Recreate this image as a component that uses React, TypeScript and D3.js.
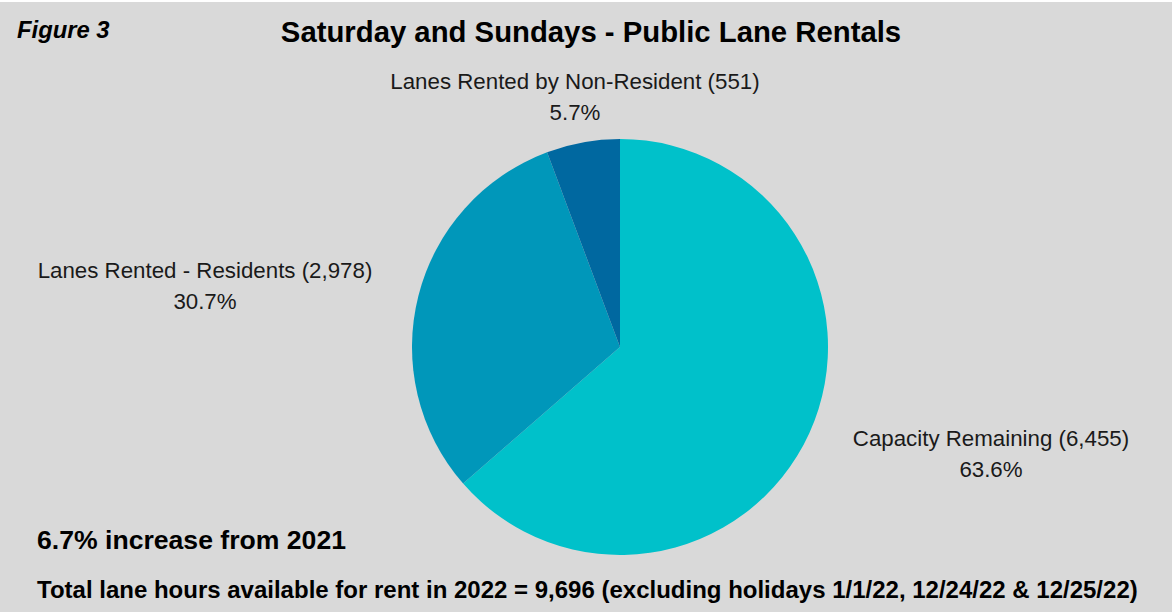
import React from "react";
import * as d3 from "d3";

const categories = ["Capacity Remaining", "Lanes Rented - Residents", "Lanes Rented by Non-Resident"];
const counts = ["6,455", "2,978", "551"];
const percents = [63.6, 30.7, 5.7];
const colors = ["#00C1CA", "#0097BA", "#0068A0"];
const labelPos = [
  { x: 991, y: 446 },
  { x: 205, y: 278 },
  { x: 575, y: 89 },
];
const labelText = [
  `${categories[0]} (${counts[0]})`,
  `${categories[1]} (${counts[1]})`,
  `${categories[2]} (${counts[2]})`,
];

const FONT = "Liberation Sans, Arial, sans-serif";

export default function App() {
  const W = 1172, H = 612;
  const cx = 620, cy = 347, r = 208;
  const pie = d3.pie<number>().sort(null).value((d) => d);
  const arcs = pie(percents);
  const arc = d3.arc<d3.PieArcDatum<number>>().innerRadius(0).outerRadius(r);
  return (
    <svg width={W} height={H} style={{ position: "absolute", left: 0, top: 0 }}>
      <rect x={0} y={0} width={W} height={H} fill="#FFFFFF" />
      <rect x={0} y={2} width={W} height={H - 2} fill="#D9D9D9" />
      <text x={17} y={38} fontFamily={FONT} fontWeight="bold" fontStyle="italic" fontSize={23.8} fill="#000">Figure 3</text>
      <text x={591} y={42} textAnchor="middle" fontFamily={FONT} fontWeight="bold" fontSize={29.3} fill="#000">Saturday and Sundays - Public Lane Rentals</text>
      <g transform={`translate(${cx},${cy})`}>
        {arcs.map((a, i) => (
          <path key={i} d={arc(a) || ""} fill={colors[i]} />
        ))}
      </g>
      {labelPos.map((p, i) => (
        <g key={i} fontFamily={FONT} fontSize={22.3} fill="#1a1a1a" textAnchor="middle">
          <text x={p.x} y={p.y}>{labelText[i]}</text>
          <text x={p.x} y={p.y + 31}>{percents[i].toFixed(1)}%</text>
        </g>
      ))}
      <text x={37} y={549} fontFamily={FONT} fontWeight="bold" fontSize={26.6} fill="#000">6.7% increase from 2021</text>
      <text x={37} y={598} fontFamily={FONT} fontWeight="bold" fontSize={24} fill="#000">Total lane hours available for rent in 2022 = 9,696 (excluding holidays 1/1/22, 12/24/22 &amp; 12/25/22)</text>
    </svg>
  );
}
